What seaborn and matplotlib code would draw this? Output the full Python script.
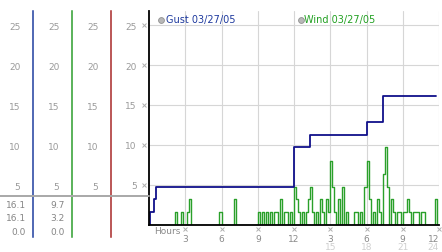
import numpy as np
import pandas as pd
import seaborn as sns
import matplotlib.pyplot as plt
from matplotlib.lines import Line2D

# ---------------- data ----------------
gust_hours = [0.0, 0.08, 0.42, 0.58, 12.0, 13.33, 18.0, 19.33, 23.75]
gust_values = [0.0, 1.6, 3.2, 4.8, 9.7, 11.3, 12.9, 16.1, 16.1]

wind_step_minutes = 10
wind_values = [
    0, 0, 0, 0, 0, 0, 0, 0, 0, 0, 0, 0,
    0, 1.6, 0, 0, 1.6, 0, 0, 1.6, 3.2, 0, 0, 0,
    0, 0, 0, 0, 0, 0, 0, 0, 0, 0, 0, 1.6,
    0, 0, 0, 0, 0, 0, 3.2, 0, 0, 0, 0, 0,
    0, 0, 0, 0, 0, 0, 1.6, 0, 1.6, 0, 1.6, 0,
    1.6, 0, 1.6, 1.6, 0, 3.2, 0, 1.6, 1.6, 0, 1.6, 0,
    4.8, 3.2, 1.6, 0, 1.6, 0, 1.6, 3.2, 4.8, 1.6, 0, 1.6,
    0, 3.2, 1.6, 0, 3.2, 1.6, 8.0, 4.8, 1.6, 0, 3.2, 0,
    4.8, 0, 1.6, 0, 0, 0, 1.6, 1.6, 0, 1.6, 0, 4.8,
    8.0, 3.2, 0, 1.6, 0, 3.2, 1.6, 0, 6.4, 9.7, 4.8, 0,
    3.2, 1.6, 0, 1.6, 1.6, 0, 1.6, 1.6, 3.2, 1.6, 0, 1.6,
    1.6, 1.6, 0, 1.6, 1.6, 0, 0, 0, 0, 0, 3.2, 0,
    0,
]
wind_hours = [i * wind_step_minutes / 60 for i in range(len(wind_values))]

y_ticks = [5, 10, 15, 20, 25]
x_ticks = [3, 6, 9, 12, 15, 18, 21, 24]
x_labels = ["3", "6", "9", "12", "3", "6", "9", "12"]
x_labels2 = ["", "", "", "", "15", "18", "21", "24"]

legend_labels = ["Gust 03/27/05", "Wind 03/27/05"]
gust_stats = ["16.1", "16.1", "0.0"]
wind_stats = ["9.7", "3.2", "0.0"]

gust_color = "#10108a"
wind_color = "#2aa02a"
col_colors = ["#1f3f9f", "#2e9e2e", "#a82828"]

# ---------------- layout ----------------
W, H = 442, 253
sns.set_theme(style="white")
plt.rcParams["font.family"] = ["DejaVu Sans"]

fig = plt.figure(figsize=(W / 100, H / 100), dpi=100)
fig.patch.set_facecolor("white")


def fx(x):
    return x / W


def fy(y):
    return 1 - y / H


Y_TOP = 26.75
ax = fig.add_axes([fx(149), fy(226), (439 - 149) / W, (226 - 12) / H])
ax.set_xlim(0, 24)
ax.set_ylim(0, Y_TOP)
ax.patch.set_visible(False)

# wind + gust
sns.lineplot(x=wind_hours, y=wind_values, drawstyle="steps-post", color=wind_color,
             lw=1.0, ax=ax, estimator=None)
sns.lineplot(x=gust_hours, y=gust_values, drawstyle="steps-post", color=gust_color,
             lw=1.3, ax=ax, estimator=None)

ax.set_xticks(x_ticks)
ax.set_xticklabels(x_labels)
ax.set_yticks(y_ticks)
ax.set_yticklabels([str(v) for v in y_ticks])
ax.grid(True, color="#d6d6d6", lw=0.8)
ax.set_axisbelow(True)
ax.tick_params(axis="x", length=0, pad=6.5, labelcolor="#8a8a8a", labelsize=6.5)
ax.tick_params(axis="y", length=0, pad=8.8, labelcolor="#9a9a9a", labelsize=6.5)
xl = ax.get_xticklabels()
xl[-1].set_horizontalalignment("right")
for s in ["top", "right"]:
    ax.spines[s].set_visible(False)
ax.spines["left"].set_color("black")
ax.spines["left"].set_linewidth(1.3)
ax.spines["bottom"].set_color("black")
ax.spines["bottom"].set_linewidth(1.3)

# small tick glyphs
ax.plot(x_ticks, [-0.5] * len(x_ticks), ls="", marker="x", ms=2.2, mew=0.7,
        color="#b0b0b0", clip_on=False)
ax.plot([-0.42] * len(y_ticks), y_ticks, ls="", marker="x", ms=2.2, mew=0.7,
        color="#b0b0b0", clip_on=False)

# second row of hour labels
for k, (h, lab) in enumerate(zip(x_ticks, x_labels2)):
    if lab:
        ax.text(h, -0.1, lab, transform=ax.get_xaxis_transform(),
                ha="right" if k == len(x_ticks) - 1 else "center",
                va="center", color="#cfcfcf", fontsize=6.5, clip_on=False)

fig.text(fx(154), fy(231.5), "Hours", color="#8a8a8a", fontsize=6.5, va="center", ha="left")

# left panel columns
for xpx, c in zip([33, 72, 111], col_colors):
    cax = fig.add_axes([fx(xpx), fy(238), 0.0005, (238 - 12) / H])
    cax.set_ylim(-1.5, Y_TOP)
    cax.set_xticks([])
    cax.set_yticks(y_ticks)
    cax.set_yticklabels([str(v) for v in y_ticks])
    cax.patch.set_visible(False)
    for s in ["top", "right", "bottom"]:
        cax.spines[s].set_visible(False)
    cax.spines["left"].set_color(c)
    cax.spines["left"].set_linewidth(1.1)
    cax.tick_params(axis="y", length=0, pad=9.0, labelcolor="#9a9a9a", labelsize=6.5)

# gray separator line
fig.add_artist(Line2D([fx(0), fx(149)], [fy(197), fy(197)], color="#a8a8a8", lw=1.4,
                      transform=fig.transFigure))

for i, (g, w) in enumerate(zip(gust_stats, wind_stats)):
    yy = 205.7 + i * 13.3
    fig.text(fx(26), fy(yy), g, ha="right", va="center", color="#858585", fontsize=6.5)
    fig.text(fx(65), fy(yy), w, ha="right", va="center", color="#858585", fontsize=6.5)

# legend
for (xc, xt), lab, c in zip([(160.7, 166), (300.7, 304)], legend_labels, [
        "#1e3a9e", "#22a022"]):
    fig.add_artist(Line2D([fx(xc)], [fy(20.5)], marker="o", ms=4.2, mfc="#b8b8b8",
                          mec="#909090", mew=0.6, ls="", transform=fig.transFigure))
    fig.text(fx(xt), fy(20.5), lab, color=c, fontsize=7, va="center", ha="left")

fig.savefig("out.png", dpi=100)
